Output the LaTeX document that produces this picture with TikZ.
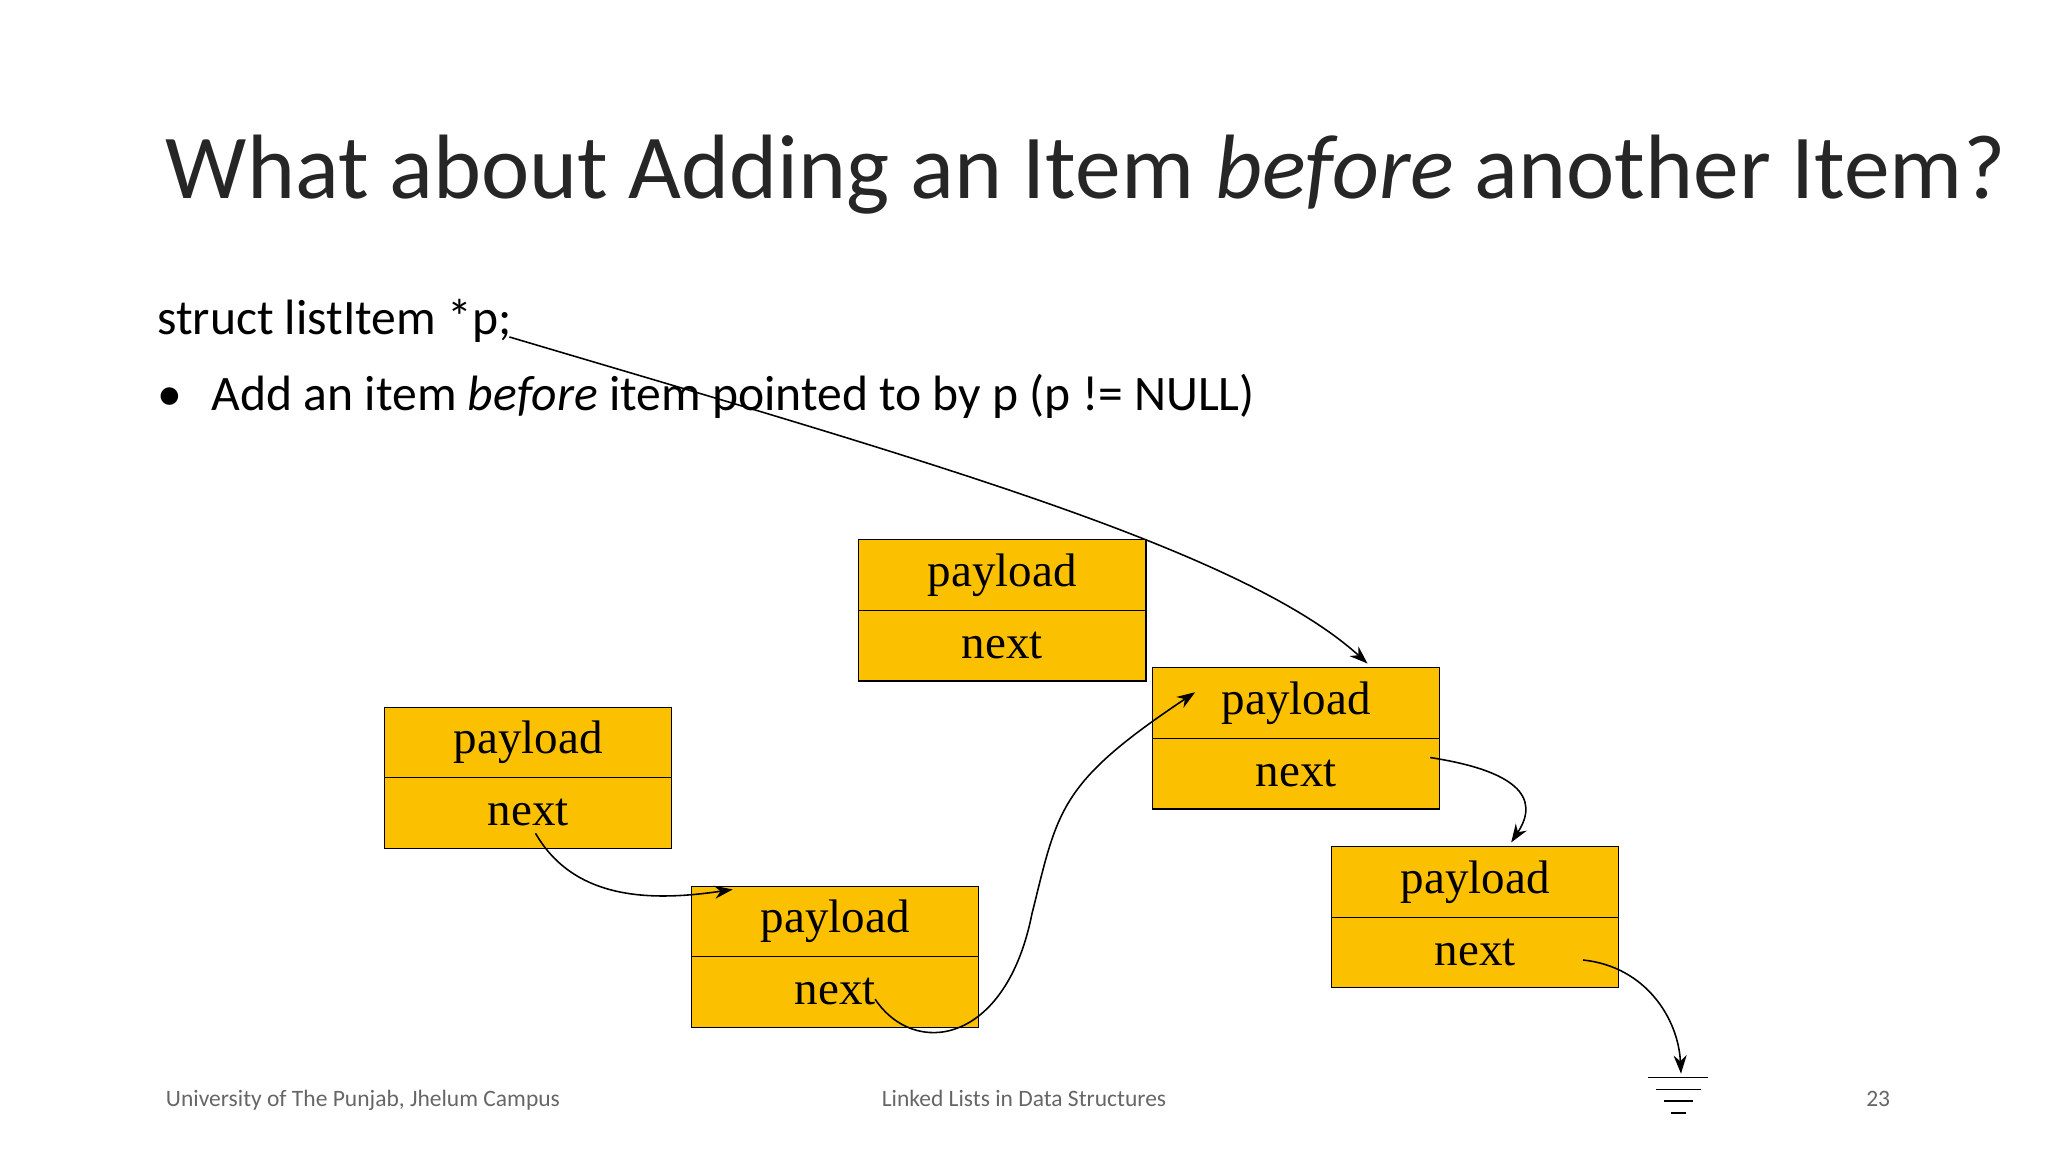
\documentclass[tikz,border=0pt]{standalone}
\usepackage{fontspec}
\setmainfont{Carlito}
\newfontfamily\boxfont{Liberation Serif}
\usetikzlibrary{arrows.meta}
\begin{document}
\begin{tikzpicture}[x=0.5pt,y=-0.5pt,
  half/.style={draw=black,fill={rgb,255:red,251;green,192;blue,0},minimum width=110pt,minimum height=27pt,inner sep=0pt,font=\boxfont\fontsize{18}{20}\selectfont,anchor=north west},
  conn/.style={draw=black,line width=0.6pt,-{Stealth[length=7pt,width=5pt]}},
  foot/.style={font=\fontsize{9}{10}\selectfont,text=gray!80!black}]
\useasboundingbox (0,0) rectangle (1568,882);
\node[anchor=base west,font=\fontsize{35}{40}\selectfont,text=black!85] (title) at (120,152) {What about Adding an Item \textit{before} another Item?};
\node[anchor=base west,font=\fontsize{19}{22}\selectfont,inner sep=0pt] (decl) at (120,256) {struct listItem *p;};
\node[anchor=base west,font=\fontsize{19}{22}\selectfont,inner sep=0pt] (bul) at (120,314) {\textbullet\hspace{0.6em}Add an item \textit{before} item pointed to by p (p != NULL)};
\coordinate (ps) at (390,258);
% nodes
\coordinate (pe) at (1047,508);
\draw[conn] (ps) .. controls (700,350) and (950,420) .. (pe);
\foreach \n/\x/\y in {a/657/413,b/882/511,c/294/541,d/529/678,e/1019/648}{
  \node[half] (\n p) at (\x,\y) {payload};
  \node[half] (\n n) at (\x,\y+54) {next};
}
\coordinate (cs) at (410,638);
\coordinate (ds) at (670,765);
\coordinate (bs) at (1095,580);
\coordinate (es) at (1212,735);
\coordinate (g) at (1287,822);
\draw[conn] (cs) .. controls (440,690) and (500,690) .. (561,681);
\draw[conn] (ds) .. controls (700,810) and (770,800) .. (790,700) .. controls (810,620) and (810,600) .. (915,530);
\draw[conn] (bs) .. controls (1160,590) and (1180,610) .. (1157,645);
\draw[conn] (es) .. controls (1260,740) and (1285,780) .. (g);
\draw[line width=0.6pt] (1262,825) -- (1308,825) (1268,834) -- (1302,834) (1274,843) -- (1296,843) (1279,852) -- (1291,852);
\node[foot,anchor=base west] (f1) at (120,847) {University of The Punjab, Jhelum Campus};
\node[foot,anchor=base] (f2) at (784,847) {Linked Lists in Data Structures};
\node[foot,anchor=base] (f3) at (1438,847) {23};
\end{tikzpicture}
\end{document}
